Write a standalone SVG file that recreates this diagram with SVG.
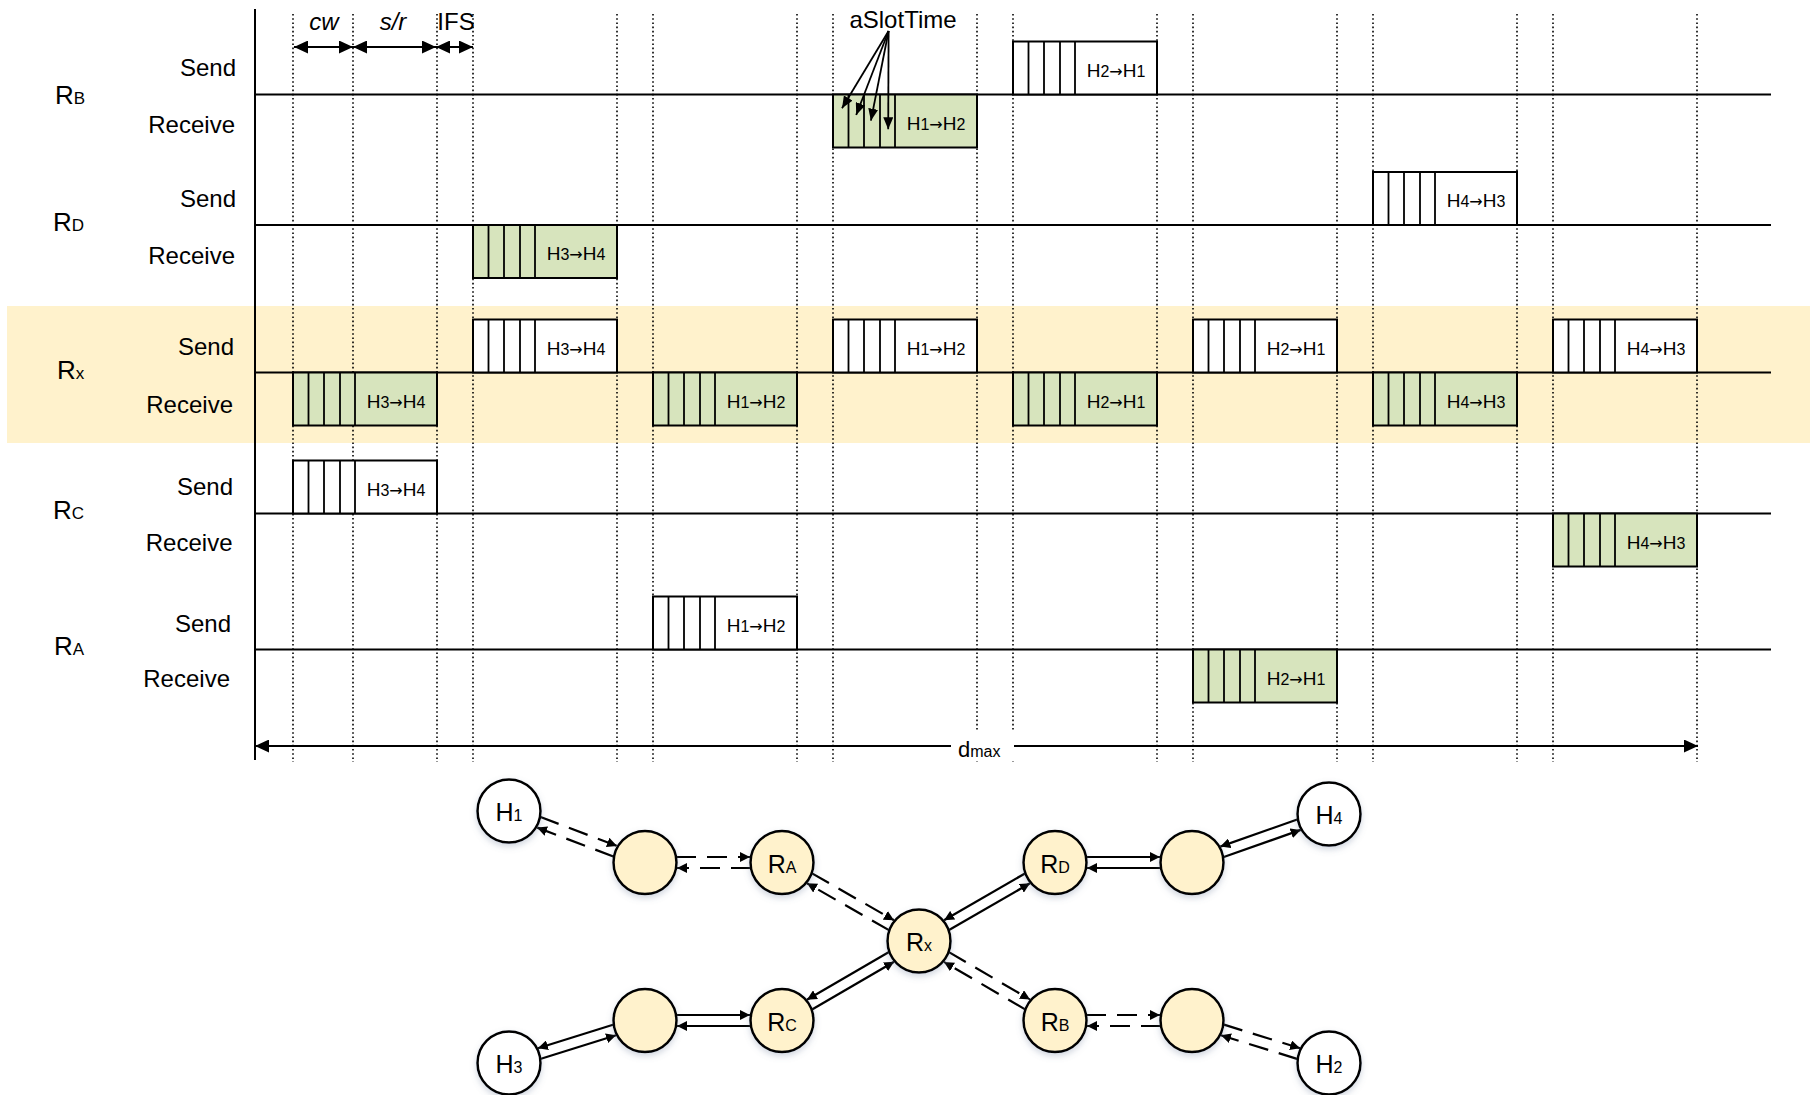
<svg xmlns="http://www.w3.org/2000/svg" width="1810" height="1095" viewBox="0 0 1810 1095">
<style>
.t{font-family:"Liberation Sans",Arial,sans-serif;fill:#000}
.lbl{font-size:24px;text-anchor:end}
.rl{font-size:26px}
.sub{font-size:17px}
.bx{font-size:19px;text-anchor:middle}
.bsub{font-size:16px}
.ar{font-family:"DejaVu Sans",sans-serif;font-size:16px}
.ann{font-size:24px;text-anchor:middle}
.tl{stroke:#000;stroke-width:2;fill:none}
.dot{stroke:#000;stroke-width:1.6;stroke-dasharray:1.6 2.6;fill:none}
.snd{fill:#fff;stroke:#000;stroke-width:2}
.rcv{fill:#D7E4BD;stroke:#000;stroke-width:2}
.cell{stroke:#000;stroke-width:1.8;fill:none}
.node{stroke:#000;stroke-width:2.5}
.y{fill:#FFF2CC}
.w{fill:#fff}
.c{stroke:#000;stroke-width:2.2;fill:none;marker-end:url(#sa)}
.dash{stroke-dasharray:20 11}
.da{stroke:#000;stroke-width:2;fill:none;marker-start:url(#ba);marker-end:url(#ba)}
.st{stroke:#000;stroke-width:1.8;fill:none;marker-end:url(#ma)}
.nl{font-size:25px;text-anchor:middle}
.ns{font-size:16px}
</style>
<defs>
<marker id="ba" viewBox="0 0 14 13" refX="14" refY="6.5" markerWidth="14" markerHeight="13" markerUnits="userSpaceOnUse" orient="auto-start-reverse"><path d="M0,0L14,6.5L0,13z" fill="#000"/></marker>
<marker id="sa" viewBox="0 0 10 10" refX="10" refY="5" markerWidth="10" markerHeight="10" markerUnits="userSpaceOnUse" orient="auto"><path d="M0,0L10,5L0,10z" fill="#000"/></marker>
<marker id="ma" viewBox="0 0 12 10" refX="12" refY="5" markerWidth="12" markerHeight="10" markerUnits="userSpaceOnUse" orient="auto"><path d="M0,0L12,5L0,10z" fill="#000"/></marker>
<path id="cells" d="M15.5 0V53M31 0V53M47 0V53M62 0V53" class="cell"/>
<filter id="sh" x="-40%" y="-40%" width="180%" height="190%"><feDropShadow dx="0" dy="3" stdDeviation="3" flood-color="#6b7a99" flood-opacity="0.3"/></filter>
</defs>

<!-- highlight band -->
<rect x="7" y="306" width="1803" height="137" fill="#FFF2CC"/>

<!-- axis and row lines -->
<g id="grid">
<path class="tl" d="M255 9V760"/>
<path class="tl" d="M255 94.5H1771M255 225H1771M255 372.5H1771M255 513.5H1771M255 649.5H1771"/>
<path class="dot" d="M293 14V762M353 14V762M437 14V762M473 14V762M617 14V762M653 14V762M797 14V762M833 14V762M977 14V762M1013 14V762M1157 14V762M1193 14V762M1337 14V762M1373 14V762M1517 14V762M1553 14V762M1697 14V762"/>
</g>

<!-- row labels -->
<g id="labels">
<text class="t rl" x="55" y="104">R<tspan class="sub">B</tspan></text>
<text class="t lbl" x="236" y="76">Send</text>
<text class="t lbl" x="235" y="132.7">Receive</text>
<text class="t rl" x="53" y="231">R<tspan class="sub">D</tspan></text>
<text class="t lbl" x="236" y="206.7">Send</text>
<text class="t lbl" x="235" y="264.3">Receive</text>
<text class="t rl" x="57" y="379">R<tspan class="sub">x</tspan></text>
<text class="t lbl" x="234" y="355">Send</text>
<text class="t lbl" x="233" y="412.7">Receive</text>
<text class="t rl" x="53" y="519">R<tspan class="sub">C</tspan></text>
<text class="t lbl" x="233" y="495">Send</text>
<text class="t lbl" x="232.5" y="551">Receive</text>
<text class="t rl" x="54" y="655">R<tspan class="sub">A</tspan></text>
<text class="t lbl" x="231" y="631.7">Send</text>
<text class="t lbl" x="230" y="687.3">Receive</text>
</g>

<!-- RB -->
<g id="rb-send-h2h1" transform="translate(1013,41.5)"><rect class="snd" width="144" height="53"/><use href="#cells"/><text class="t bx" x="103" y="35">H<tspan class="bsub">2</tspan><tspan class="ar">→</tspan>H<tspan class="bsub">1</tspan></text></g>
<g id="rb-recv-h1h2" transform="translate(833,94.5)"><rect class="rcv" width="144" height="53"/><use href="#cells"/><text class="t bx" x="103" y="35">H<tspan class="bsub">1</tspan><tspan class="ar">→</tspan>H<tspan class="bsub">2</tspan></text></g>
<!-- RD -->
<g id="rd-send-h4h3" transform="translate(1373,172)"><rect class="snd" width="144" height="53"/><use href="#cells"/><text class="t bx" x="103" y="35">H<tspan class="bsub">4</tspan><tspan class="ar">→</tspan>H<tspan class="bsub">3</tspan></text></g>
<g id="rd-recv-h3h4" transform="translate(473,225)"><rect class="rcv" width="144" height="53"/><use href="#cells"/><text class="t bx" x="103" y="35">H<tspan class="bsub">3</tspan><tspan class="ar">→</tspan>H<tspan class="bsub">4</tspan></text></g>
<!-- Rx send -->
<g id="rx-send-h3h4" transform="translate(473,319.5)"><rect class="snd" width="144" height="53"/><use href="#cells"/><text class="t bx" x="103" y="35">H<tspan class="bsub">3</tspan><tspan class="ar">→</tspan>H<tspan class="bsub">4</tspan></text></g>
<g id="rx-send-h1h2" transform="translate(833,319.5)"><rect class="snd" width="144" height="53"/><use href="#cells"/><text class="t bx" x="103" y="35">H<tspan class="bsub">1</tspan><tspan class="ar">→</tspan>H<tspan class="bsub">2</tspan></text></g>
<g id="rx-send-h2h1" transform="translate(1193,319.5)"><rect class="snd" width="144" height="53"/><use href="#cells"/><text class="t bx" x="103" y="35">H<tspan class="bsub">2</tspan><tspan class="ar">→</tspan>H<tspan class="bsub">1</tspan></text></g>
<g id="rx-send-h4h3" transform="translate(1553,319.5)"><rect class="snd" width="144" height="53"/><use href="#cells"/><text class="t bx" x="103" y="35">H<tspan class="bsub">4</tspan><tspan class="ar">→</tspan>H<tspan class="bsub">3</tspan></text></g>
<!-- Rx receive -->
<g id="rx-recv-h3h4" transform="translate(293,372.5)"><rect class="rcv" width="144" height="53"/><use href="#cells"/><text class="t bx" x="103" y="35">H<tspan class="bsub">3</tspan><tspan class="ar">→</tspan>H<tspan class="bsub">4</tspan></text></g>
<g id="rx-recv-h1h2" transform="translate(653,372.5)"><rect class="rcv" width="144" height="53"/><use href="#cells"/><text class="t bx" x="103" y="35">H<tspan class="bsub">1</tspan><tspan class="ar">→</tspan>H<tspan class="bsub">2</tspan></text></g>
<g id="rx-recv-h2h1" transform="translate(1013,372.5)"><rect class="rcv" width="144" height="53"/><use href="#cells"/><text class="t bx" x="103" y="35">H<tspan class="bsub">2</tspan><tspan class="ar">→</tspan>H<tspan class="bsub">1</tspan></text></g>
<g id="rx-recv-h4h3" transform="translate(1373,372.5)"><rect class="rcv" width="144" height="53"/><use href="#cells"/><text class="t bx" x="103" y="35">H<tspan class="bsub">4</tspan><tspan class="ar">→</tspan>H<tspan class="bsub">3</tspan></text></g>
<!-- RC -->
<g id="rc-send-h3h4" transform="translate(293,460.5)"><rect class="snd" width="144" height="53"/><use href="#cells"/><text class="t bx" x="103" y="35">H<tspan class="bsub">3</tspan><tspan class="ar">→</tspan>H<tspan class="bsub">4</tspan></text></g>
<g id="rc-recv-h4h3" transform="translate(1553,513.5)"><rect class="rcv" width="144" height="53"/><use href="#cells"/><text class="t bx" x="103" y="35">H<tspan class="bsub">4</tspan><tspan class="ar">→</tspan>H<tspan class="bsub">3</tspan></text></g>
<!-- RA -->
<g id="ra-send-h1h2" transform="translate(653,596.5)"><rect class="snd" width="144" height="53"/><use href="#cells"/><text class="t bx" x="103" y="35">H<tspan class="bsub">1</tspan><tspan class="ar">→</tspan>H<tspan class="bsub">2</tspan></text></g>
<g id="ra-recv-h2h1" transform="translate(1193,649.5)"><rect class="rcv" width="144" height="53"/><use href="#cells"/><text class="t bx" x="103" y="35">H<tspan class="bsub">2</tspan><tspan class="ar">→</tspan>H<tspan class="bsub">1</tspan></text></g>

<!-- top annotations -->
<g id="annotations">
<text class="t ann" x="324" y="30" font-style="italic">cw</text>
<text class="t ann" x="393" y="30" font-style="italic">s/r</text>
<text class="t ann" x="456" y="30">IFS</text>
<path class="da" d="M294 47H353"/>
<path class="da" d="M353 47H436"/>
<path class="da" d="M436 47H473"/>
<text class="t ann" x="903" y="28" font-size="23">aSlotTime</text>
<path class="st" d="M888.6 31L842 108.3"/>
<path class="st" d="M888.6 31L856.2 115"/>
<path class="st" d="M888.6 31L870.9 120.7"/>
<path class="st" d="M888.6 31L888.2 129.3"/>
</g>

<!-- dmax -->
<g id="dmax">
<path class="da" d="M255 746H1698"/>
<rect x="951" y="731" width="63" height="30" fill="#fff"/>
<text class="t" x="958" y="757" font-size="22">d<tspan font-size="16">max</tspan></text>
</g>

<!-- graph connectors -->
<g id="connectors">
<path class="c dash" d="M539.9 816.8L617 846"/>
<path class="c dash" d="M614 856.7L537 827.5"/>
<path class="c dash" d="M676 857L750 857"/>
<path class="c dash" d="M751 868L677 868"/>
<path class="c dash" d="M811.6 873.1L894 920.3"/>
<path class="c dash" d="M889.4 930.4L807 883.2"/>
<path class="c dash" d="M948.5 951.9L1030.1 999.6"/>
<path class="c dash" d="M1025.5 1009.6L943.9 961.9"/>
<path class="c dash" d="M1086 1015L1160 1015"/>
<path class="c dash" d="M1161 1026L1087 1026"/>
<path class="c dash" d="M1223.2 1024.4L1300.1 1048.3"/>
<path class="c dash" d="M1297.8 1059.1L1220.9 1035.2"/>
<path class="c" d="M613.8 1024.5L537.9 1048.2"/>
<path class="c" d="M540.2 1059L616.1 1035.3"/>
<path class="c" d="M676 1015L750 1015"/>
<path class="c" d="M751 1026L677 1026"/>
<path class="c" d="M889.4 951.8L806.9 999.7"/>
<path class="c" d="M811.6 1009.7L894.1 961.8"/>
<path class="c" d="M1025.4 873.2L944 920.2"/>
<path class="c" d="M948.6 930.3L1030 883.3"/>
<path class="c" d="M1086 857L1160 857"/>
<path class="c" d="M1161 868L1087 868"/>
<path class="c" d="M1297.9 819.2L1220.3 846.6"/>
<path class="c" d="M1223.1 857.3L1300.7 829.9"/>
</g>

<!-- graph nodes -->
<g id="H1"><circle class="node w" cx="509" cy="811" r="31.5" filter="url(#sh)"/><text class="t nl" x="509" y="821">H<tspan class="ns">1</tspan></text></g>
<g id="N1"><circle class="node y" cx="645" cy="862.5" r="31.5" filter="url(#sh)"/></g>
<g id="RA"><circle class="node y" cx="782" cy="862.5" r="31.5" filter="url(#sh)"/><text class="t nl" x="782" y="872.5">R<tspan class="ns">A</tspan></text></g>
<g id="Rx"><circle class="node y" cx="919" cy="941" r="31.5" filter="url(#sh)"/><text class="t nl" x="919" y="951">R<tspan class="ns">x</tspan></text></g>
<g id="RD"><circle class="node y" cx="1055" cy="862.5" r="31.5" filter="url(#sh)"/><text class="t nl" x="1055" y="872.5">R<tspan class="ns">D</tspan></text></g>
<g id="N4"><circle class="node y" cx="1192" cy="862.5" r="31.5" filter="url(#sh)"/></g>
<g id="H4"><circle class="node w" cx="1329" cy="814" r="31.5" filter="url(#sh)"/><text class="t nl" x="1329" y="824">H<tspan class="ns">4</tspan></text></g>
<g id="H3"><circle class="node w" cx="509" cy="1063" r="31.5" filter="url(#sh)"/><text class="t nl" x="509" y="1073">H<tspan class="ns">3</tspan></text></g>
<g id="N3"><circle class="node y" cx="645" cy="1020.5" r="31.5" filter="url(#sh)"/></g>
<g id="RC"><circle class="node y" cx="782" cy="1020.5" r="31.5" filter="url(#sh)"/><text class="t nl" x="782" y="1030.5">R<tspan class="ns">C</tspan></text></g>
<g id="RB"><circle class="node y" cx="1055" cy="1020.5" r="31.5" filter="url(#sh)"/><text class="t nl" x="1055" y="1030.5">R<tspan class="ns">B</tspan></text></g>
<g id="N2"><circle class="node y" cx="1192" cy="1020.5" r="31.5" filter="url(#sh)"/></g>
<g id="H2"><circle class="node w" cx="1329" cy="1063" r="31.5" filter="url(#sh)"/><text class="t nl" x="1329" y="1073">H<tspan class="ns">2</tspan></text></g>
</svg>
